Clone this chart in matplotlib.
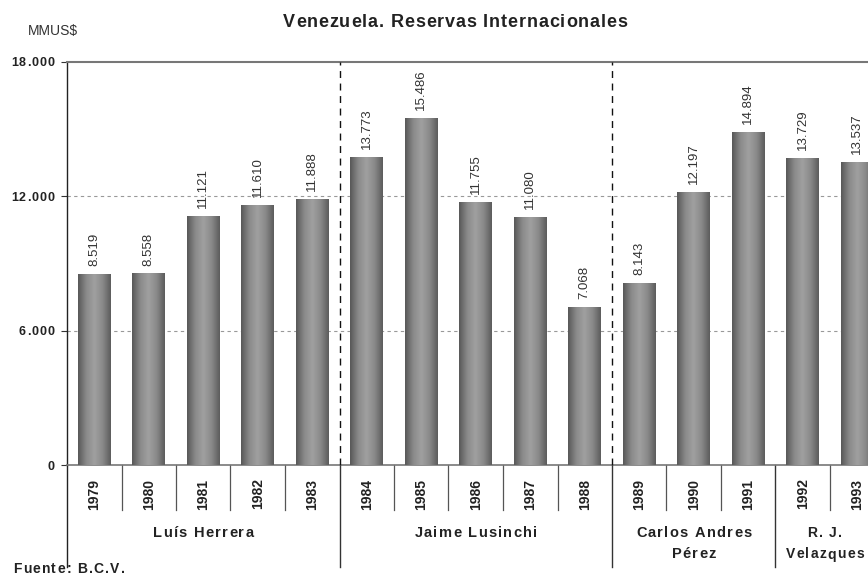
import matplotlib
matplotlib.use("Agg")
import matplotlib.pyplot as plt
import matplotlib.transforms as mtransforms
from matplotlib.colors import LinearSegmentedColormap
from matplotlib.font_manager import FontProperties, findfont, get_font
import numpy as np

plt.rcParams['font.family'] = ['Liberation Sans', 'DejaVu Sans']

years = ['1979', '1980', '1981', '1982', '1983', '1984', '1985', '1986', '1987', '1988',
         '1989', '1990', '1991', '1992', '1993']
reserves = [8519, 8558, 11121, 11610, 11888, 13773, 15486, 11755, 11080, 7068,
            8143, 12197, 14894, 13729, 13537]
value_labels = ['8.519', '8.558', '11.121', '11.610', '11.888', '13.773', '15.486', '11.755',
                '11.080', '7.068', '8.143', '12.197', '14.894', '13.729', '13.537']
groups = ['Luís Herrera', 'Jaime Lusinchi', 'Carlos Andres\nPérez', 'R. J.\nVelazques']
group_sizes = [5, 5, 3, 2]
yticks = [0, 6000, 12000, 18000]
ytick_labels = ['0', '6.000', '12.000', '18.000']

W, H = 868, 577
DPI = 100
fig = plt.figure(figsize=(W / DPI, H / DPI), dpi=DPI)
left_px, top_px, bottom_px = 67, 62, 465
cat_w = 54.5
n = len(years)
ax_h = bottom_px - top_px
ax = fig.add_axes([left_px / W, 1 - bottom_px / H, n * cat_w / W, ax_h / H])


def spaced_text(s, x_px, y_base_px, size, spacing, ha='center', weight='bold', color='#222222'):
    """Draw text with letter spacing; coordinates in pixels from top-left, baseline y."""
    prop = FontProperties(family='Liberation Sans', weight=weight, size=size)
    font = get_font(findfont(prop))
    font.set_size(size, DPI)
    adv = []
    for ch in s:
        g = font.load_char(ord(ch))
        adv.append(g.linearHoriAdvance / 65536.0)
    total = sum(adv) + spacing * (len(s) - 1)
    if ha == 'center':
        x0 = x_px - total / 2
    elif ha == 'right':
        x0 = x_px - total
    else:
        x0 = x_px
    xc = x0
    for ch, a in zip(s, adv):
        fig.text(xc / W, 1 - y_base_px / H, ch, ha='left', va='baseline',
                 fontproperties=prop, color=color)
        xc += a + spacing


x = np.arange(n)
bars = ax.bar(x, reserves, width=0.6, color='none', edgecolor='none', zorder=3)

cmap = LinearSegmentedColormap.from_list('g', ['#585858', '#8a8a8a', '#a0a0a0', '#8a8a8a', '#5c5c5c'])
grad = np.linspace(0, 1, 100).reshape(1, -1)
for b in bars:
    x0, w, h = b.get_x(), b.get_width(), b.get_height()
    im = ax.imshow(grad, extent=[x0, x0 + w, 0, h], aspect='auto', cmap=cmap,
                   zorder=3, interpolation='bicubic')
    im.set_clip_path(b)

for xi, v, lab in zip(x, reserves, value_labels):
    ax.text(xi, v + 350, lab, rotation=90, ha='center', va='bottom', fontsize=9.5, color='#333333')

ax.set_xlim(-0.5, n - 0.5)
ax.set_ylim(0, 18000)
ax.set_yticks(yticks)
ax.set_yticklabels([])
ax.tick_params(axis='y', length=4, width=0.8, color='#333333')
ax.set_xticks([])
for yv, lab in zip(yticks, ytick_labels):
    ypx = bottom_px - yv / 18000 * ax_h
    spaced_text(lab, 54, ypx + 4.5, 9, 1.0, ha='right')

for yv in [6000, 12000]:
    ax.axhline(yv, color='#999999', lw=0.8, ls=(0, (3, 3)), zorder=1)

ax.spines['right'].set_visible(False)
ax.spines['top'].set_color('#777777')
ax.spines['top'].set_linewidth(1.5)
ax.spines['bottom'].set_color('#777777')
ax.spines['bottom'].set_linewidth(1.2)
ax.spines['left'].set_color('#222222')
ax.spines['left'].set_linewidth(1.0)

trans = mtransforms.blended_transform_factory(ax.transData, ax.transAxes)
yr_sep = -45 / ax_h
grp_sep = -102 / ax_h

ax.plot([-0.5, -0.5], [0, grp_sep], transform=trans, color='#222222', lw=1.0, clip_on=False)

for xi, yr in zip(x, years):
    ax.text(xi, -29 / ax_h, yr, transform=trans, rotation=90, ha='center', va='center',
            fontsize=10, fontweight='bold', color='#222222')

bounds = np.cumsum(group_sizes)
starts = np.concatenate([[0], bounds[:-1]])
for k in range(1, n):
    xs = k - 0.5
    if k in bounds:
        ax.plot([xs, xs], [0, grp_sep], transform=trans, color='#333333', lw=1.0, clip_on=False)
    else:
        ax.plot([xs, xs], [0, yr_sep], transform=trans, color='#555555', lw=0.9, clip_on=False)

visible_right = W + 6
for g, s, size in zip(groups, starts, group_sizes):
    g0_px = left_px + s * cat_w
    g1_px = min(left_px + (s + size) * cat_w, visible_right)
    cx_px = (g0_px + g1_px) / 2
    for li, line in enumerate(g.split('\n')):
        spaced_text(line, cx_px, 537 + 21.5 * li, 10.5 if size > 2 else 10, 1.3)

for b in bounds[:2]:
    ax.plot([b - 0.5, b - 0.5], [0, 1.0], transform=trans, color='#111111', lw=1.0,
            ls=(0, (5, 4)), zorder=4, clip_on=False)

spaced_text('Venezuela. Reservas Internacionales', 455, 27, 13, 0.85)
fig.text(28 / W, 1 - 31 / H, 'MMUS$', ha='left', va='center', fontsize=10, color='#333333')
spaced_text('Fuente: B.C.V.', 13, 573, 10, 1.3, ha='left')

fig.savefig('out.png', dpi=DPI)
